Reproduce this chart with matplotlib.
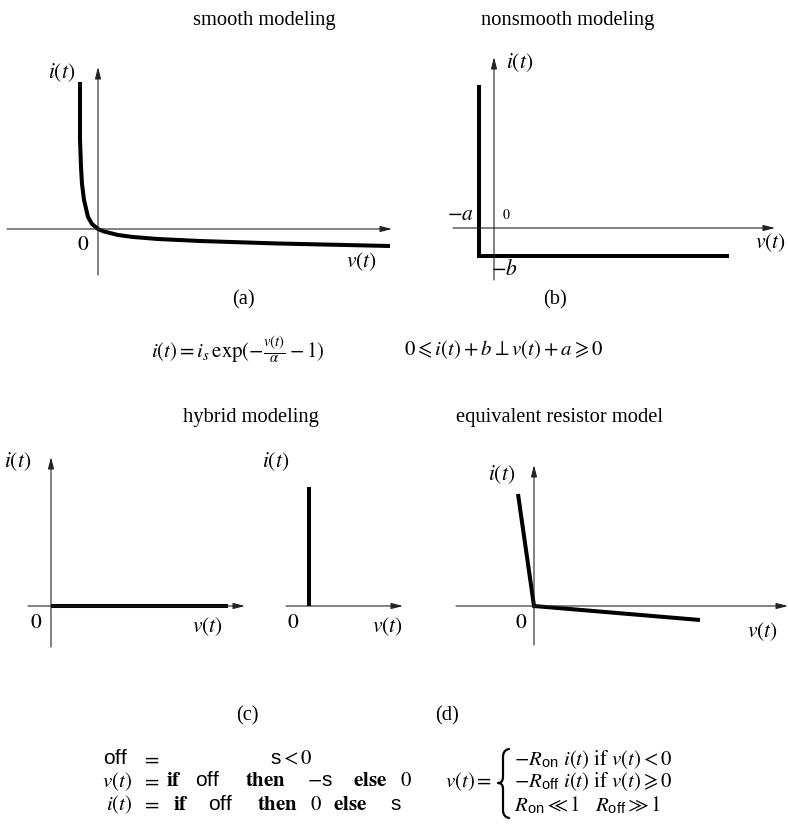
import matplotlib
matplotlib.use("Agg")
import matplotlib.pyplot as plt
from matplotlib.path import Path
from matplotlib.patches import PathPatch

plt.rcParams['font.family'] = ['Liberation Serif', 'DejaVu Serif']
plt.rcParams['mathtext.fontset'] = 'custom'
plt.rcParams['mathtext.rm'] = 'STIXGeneral'
plt.rcParams['mathtext.it'] = 'STIXGeneral:italic'
plt.rcParams['mathtext.bf'] = 'STIXGeneral:bold'
plt.rcParams['mathtext.sf'] = 'Liberation Sans'
plt.rcParams['mathtext.fallback'] = 'stix'

W, H = 788, 824

# ---------------- data (pixel offsets from each panel's origin) ----------------
smooth_v = [-18, -18, -17, -16, -14, -10, -6, 0, 6, 12, 20, 35, 60, 102, 180, 292]
smooth_i = [147, 90, 62, 45, 29, 12, 5, 0, -2.5, -4, -6, -8, -10, -12, -14.5, -17]

nonsmooth_v = [-15, -15, 235]
nonsmooth_i = [143, -28, -28]

hybrid_off_v = [0, 177]
hybrid_off_i = [0, 0]
hybrid_on_v = [0, 0]
hybrid_on_i = [0, 119]

resistor_v = [-16, 0, 166]
resistor_i = [112, 0, -14]

titles = ["smooth modeling", "nonsmooth modeling", "hybrid modeling", "equivalent resistor model"]
panel_tags = ["(a)", "(b)", "(c)", "(d)"]

fig = plt.figure(figsize=(W / 100, H / 100), dpi=100)

CURVE = dict(color='black', lw=2.9, solid_joinstyle='miter', solid_capstyle='butt')
AXC = '#222222'
LBL = 15.5
EQ = 15


def panel(ox, oy):
    ax = fig.add_axes([0, 0, 1, 1])
    ax.set_xlim(-ox, W - ox)
    ax.set_ylim(-(H - oy), oy)
    ax.axis('off')
    ax.patch.set_alpha(0)
    return ax


def axis_arrow(ax, x0, y0, x1, y1):
    ax.annotate('', xy=(x1, y1), xytext=(x0, y0),
                arrowprops=dict(arrowstyle='-|>,head_length=0.7,head_width=0.18',
                                lw=0.8, color=AXC, shrinkA=0, shrinkB=0,
                                mutation_scale=10))


def txt(x, y, s, size=LBL, ha='center', va='center', **kw):
    fig.text(x / W, 1 - y / H, s, fontsize=size, ha=ha, va=va, **kw)


# ---------------- (a) smooth ----------------
ax = panel(98, 229)
axis_arrow(ax, -91, 0, 294, 0)
axis_arrow(ax, 0, -46, 0, 162)
ax.plot(smooth_v, smooth_i, **CURVE)
txt(264, 20, titles[0], 14.8)
txt(62, 73, r"$i(t)$")
txt(83, 245, r"$0$")
txt(361, 262, r"$v(t)$")
txt(243, 300, panel_tags[0], 14.8)

# ---------------- (b) nonsmooth ----------------
ax = panel(494, 228)
axis_arrow(ax, -41, 0, 281, 0)
axis_arrow(ax, 0, -52, 0, 171)
ax.plot(nonsmooth_v, nonsmooth_i, **CURVE)
txt(568, 20, titles[1], 14.8)
txt(520, 63, r"$i(t)$")
txt(460, 215, r"$-a$")
txt(506, 215, r"$0$", 10)
txt(770, 243, r"$v(t)$")
txt(504, 270, r"$-b$")
txt(555, 300, panel_tags[1], 14.8)

# equations under (a) and (b)
txt(238, 350, r"$i(t) = i_s\,\exp(-\frac{v(t)}{\alpha} - 1)$", EQ)
txt(504, 350, r"$0 \leqslant i(t) + b \perp v(t) + a \geqslant 0$", EQ)

# ---------------- (c) hybrid ----------------
ax = panel(51, 606)
axis_arrow(ax, -23, 0, 194, 0)
axis_arrow(ax, 0, -41, 0, 149)
ax.plot(hybrid_off_v, hybrid_off_i, **CURVE)
ax = panel(309, 606)
axis_arrow(ax, -23, 0, 94, 0)
ax.plot(hybrid_on_v, hybrid_on_i, **CURVE)
txt(251, 417, titles[2], 14.8)
txt(18, 462, r"$i(t)$")
txt(36, 623, r"$0$")
txt(207, 627, r"$v(t)$")
txt(276, 462, r"$i(t)$")
txt(293, 623, r"$0$")
txt(387, 627, r"$v(t)$")
txt(247, 716, panel_tags[2], 14.8)

# ---------------- (d) resistor ----------------
ax = panel(534, 606)
axis_arrow(ax, -78, 0, 254, 0)
axis_arrow(ax, 0, -39, 0, 141)
ax.plot(resistor_v, resistor_i, **CURVE)
txt(559, 417, titles[3], 14.8)
txt(502, 475, r"$i(t)$")
txt(521, 623, r"$0$")
txt(762, 632, r"$v(t)$")
txt(447, 716, panel_tags[3], 14.8)

# ---------------- bottom equations ----------------
y1, y2, y3 = 760, 782, 805
txt(128, y1, r"$\mathsf{off}$", EQ, ha='right')
txt(150, y1, r"$=$", EQ)
txt(270, y1, r"$\mathsf{s} < 0$", EQ, ha='left')

txt(132, y2, r"$v(t)$", EQ, ha='right')
txt(150, y2, r"$=$", EQ)
txt(166, y2, r"$\mathbf{if}$", EQ, ha='left')
txt(195, y2, r"$\mathsf{off}$", EQ, ha='left')
txt(245, y2, r"$\mathbf{then}$", EQ, ha='left')
txt(307, y2, r"$-\mathsf{s}$", EQ, ha='left')
txt(353, y2, r"$\mathbf{else}$", EQ, ha='left')
txt(400, y2, r"$0$", EQ, ha='left')

txt(132, y3, r"$i(t)$", EQ, ha='right')
txt(150, y3, r"$=$", EQ)
txt(173, y3, r"$\mathbf{if}$", EQ, ha='left')
txt(208, y3, r"$\mathsf{off}$", EQ, ha='left')
txt(257, y3, r"$\mathbf{then}$", EQ, ha='left')
txt(310, y3, r"$0$", EQ, ha='left')
txt(333, y3, r"$\mathbf{else}$", EQ, ha='left')
txt(390, y3, r"$\mathsf{s}$", EQ, ha='left')

txt(492, y2, r"$v(t) =$", EQ, ha='right')
txt(514, y1, r"$-R_{\mathsf{on}}\ i(t)\ \mathrm{if}\ v(t) < 0$", EQ, ha='left')
txt(514, y2, r"$-R_{\mathsf{off}}\ i(t)\ \mathrm{if}\ v(t) \geqslant 0$", EQ, ha='left')
txt(514, y3, r"$R_{\mathsf{on}} \ll 1\quad R_{\mathsf{off}} \gg 1$", EQ, ha='left')

# curly brace drawn as a path (pixel space overlay)
bx = fig.add_axes([0, 0, 1, 1])
bx.set_xlim(0, W)
bx.set_ylim(H, 0)
bx.axis('off')
bx.patch.set_alpha(0)
cx, top, mid, bot = 503, 749, 783, 818
verts = [(cx + 6, top), (cx, top + 1), (cx, top + 8),
         (cx, mid - 6),
         (cx, mid), (cx - 5, mid),
         (cx, mid), (cx, mid + 6),
         (cx, bot - 8),
         (cx, bot - 1), (cx + 6, bot)]
codes = [Path.MOVETO, Path.CURVE3, Path.CURVE3,
         Path.LINETO,
         Path.CURVE3, Path.CURVE3,
         Path.CURVE3, Path.CURVE3,
         Path.LINETO,
         Path.CURVE3, Path.CURVE3]
bx.add_patch(PathPatch(Path(verts, codes), fill=False, lw=1.6, color='black',
                       capstyle='round', joinstyle='round'))

fig.savefig("out.png", dpi=100)
